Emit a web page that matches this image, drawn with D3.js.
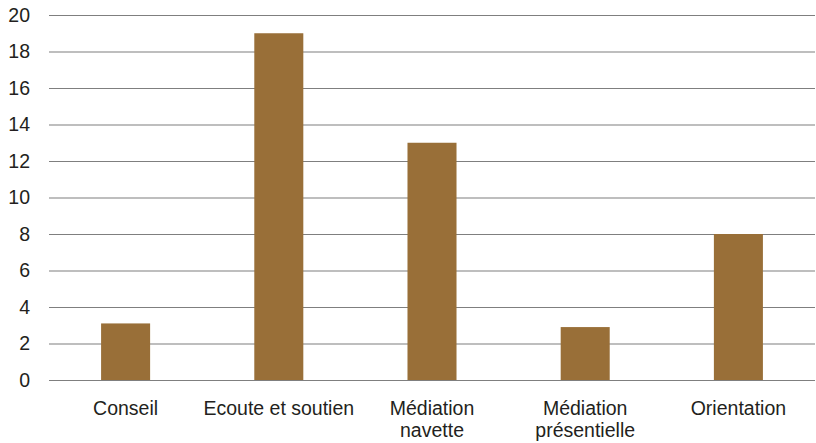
<!DOCTYPE html>
<html>
<head>
<meta charset="utf-8">
<script src="https://cdn.jsdelivr.net/npm/d3@7"></script>
<style>
  html, body { margin: 0; padding: 0; background: #fff; }
  svg text { font-family: "Liberation Sans", Arial, sans-serif; fill: #231f20; }
</style>
</head>
<body>
<svg id="chart" width="816" height="443"></svg>
<script>
// Category labels (line breaks marked with \n) and their counts
const categories = ["Conseil", "Ecoute et soutien", "Médiation\nnavette", "Médiation\nprésentielle", "Orientation"];
const values = [3.1, 19, 13, 2.9, 8];
const yTicks = [0, 2, 4, 6, 8, 10, 12, 14, 16, 18, 20];

const svg = d3.select("#chart");
const margin = { top: 15, right: 1, bottom: 63, left: 49 };
const width = 816 - margin.left - margin.right;
const height = 443 - margin.top - margin.bottom;
const fontSize = 19.5;

const g = svg.append("g").attr("transform", `translate(${margin.left},${margin.top})`);

const x = d3.scaleBand().domain(categories).range([0, width]).paddingInner(0.68).paddingOuter(0.34);
const y = d3.scaleLinear().domain([0, 20]).range([height, 0]);

// Horizontal gridlines with value labels on the left
const yAxis = g.append("g")
  .call(d3.axisLeft(y).tickValues(yTicks).tickSize(-width).tickPadding(19).tickFormat(d3.format("d")));
yAxis.select(".domain").remove();
yAxis.selectAll(".tick line").attr("stroke", "#7f7f7f").attr("stroke-width", 1.2);
yAxis.selectAll(".tick text").attr("font-size", fontSize).attr("fill", "#231f20")
  .style("font-family", "'Liberation Sans', Arial, sans-serif");

// Bars
g.selectAll("rect.bar")
  .data(categories.map((c, i) => ({ c, v: values[i] })))
  .join("rect")
  .attr("class", "bar")
  .attr("x", d => x(d.c))
  .attr("width", x.bandwidth())
  .attr("y", d => y(d.v))
  .attr("height", d => height - y(d.v))
  .attr("fill", "#996f38");

// Category labels under the baseline
const labels = g.append("g").attr("transform", `translate(0,${height})`);
categories.forEach(c => {
  const lines = c.split("\n");
  const t = labels.append("text")
    .attr("x", x(c) + x.bandwidth() / 2)
    .attr("y", 35)
    .attr("text-anchor", "middle")
    .attr("font-size", fontSize);
  lines.forEach((line, i) => {
    t.append("tspan")
      .attr("x", x(c) + x.bandwidth() / 2)
      .attr("dy", i === 0 ? 0 : 22)
      .text(line);
  });
});
</script>
</body>
</html>
